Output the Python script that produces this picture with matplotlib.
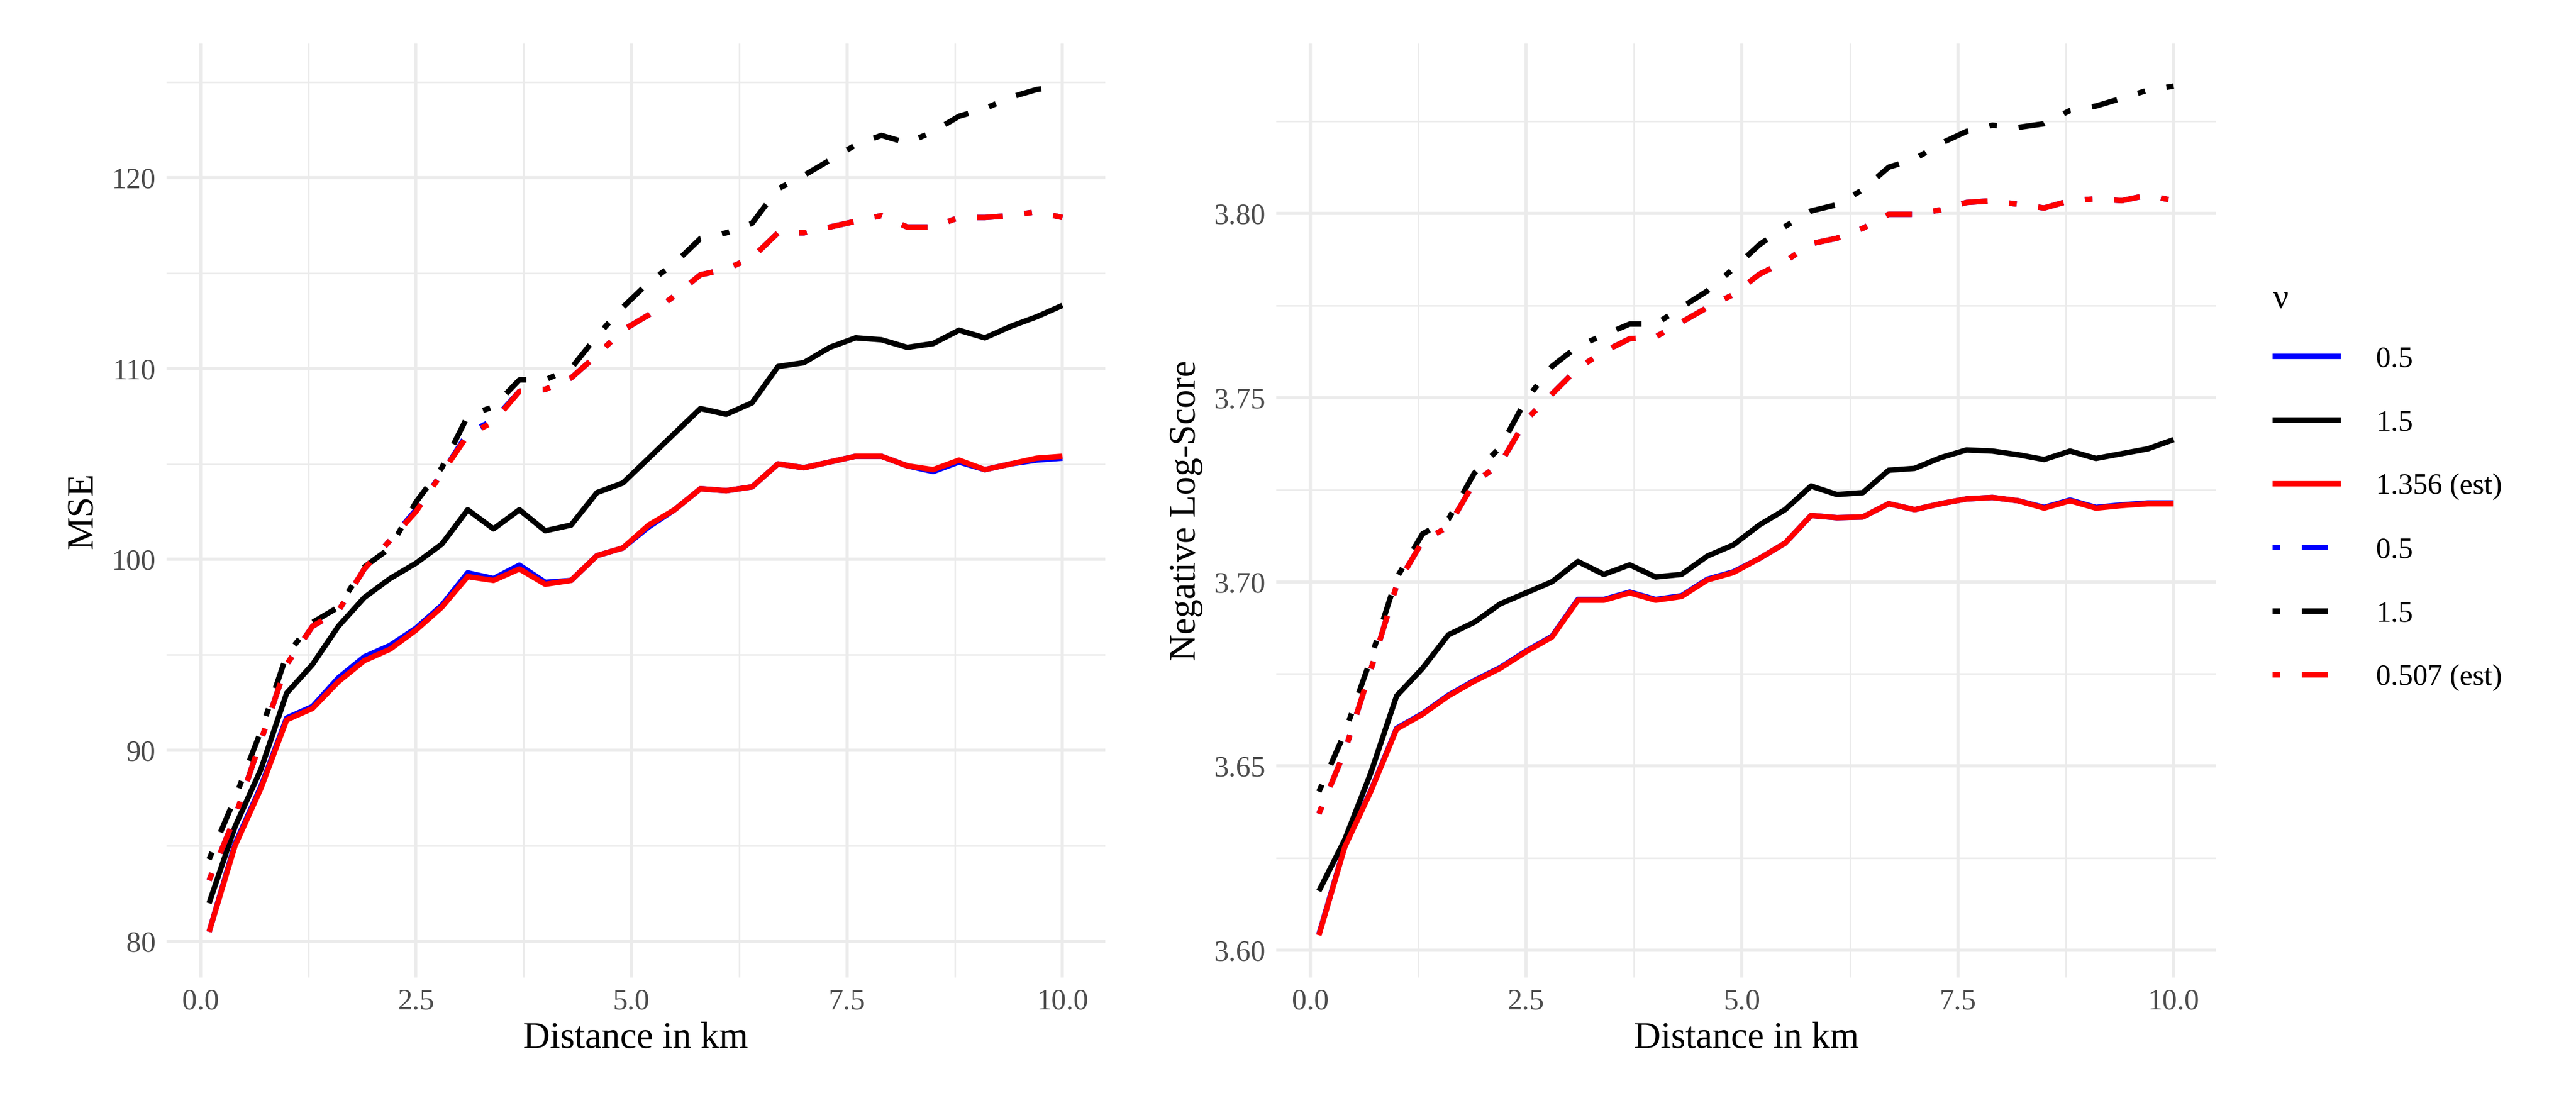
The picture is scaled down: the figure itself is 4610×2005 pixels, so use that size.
import matplotlib
matplotlib.use("Agg")
import matplotlib.pyplot as plt
from matplotlib.ticker import MultipleLocator, FixedLocator

plt.rcParams["font.family"] = ["Liberation Serif", "DejaVu Serif"]

distance = [0.1, 0.4, 0.7, 1.0, 1.3, 1.6, 1.9, 2.2, 2.5, 2.8, 3.1, 3.4, 3.7, 4.0, 4.3, 4.6, 4.9,
            5.2, 5.5, 5.8, 6.1, 6.4, 6.7, 7.0, 7.3, 7.6, 7.9, 8.2, 8.5, 8.8, 9.1, 9.4, 9.7, 10.0]

# MSE
mse_05 = [80.5, 85.1, 88.1, 91.7, 92.3, 93.8, 94.9, 95.5, 96.4, 97.6, 99.3, 99.0, 99.7, 98.8, 98.9, 100.2, 100.6,
          101.7, 102.6, 103.7, 103.6, 103.8, 105.0, 104.8, 105.1, 105.4, 105.4, 104.9, 104.6, 105.1, 104.7, 105.0, 105.2, 105.3]
mse_15 = [82.0, 86.0, 89.0, 93.0, 94.5, 96.5, 98.0, 99.0, 99.8, 100.8, 102.6, 101.6, 102.6, 101.5, 101.8, 103.5, 104.0,
          105.3, 106.6, 107.9, 107.6, 108.2, 110.1, 110.3, 111.1, 111.6, 111.5, 111.1, 111.3, 112.0, 111.6, 112.2, 112.7, 113.3]
mse_est = [80.5, 85.0, 88.0, 91.6, 92.2, 93.6, 94.7, 95.3, 96.3, 97.5, 99.1, 98.9, 99.5, 98.7, 98.9, 100.2, 100.6,
           101.8, 102.6, 103.7, 103.6, 103.8, 105.0, 104.8, 105.1, 105.4, 105.4, 104.9, 104.7, 105.2, 104.7, 105.0, 105.3, 105.4]
mse_05_dd = [83.2, 86.5, 90.5, 94.5, 96.5, 97.3, 99.5, 101.0, 102.6, 104.5, 106.6, 107.3, 108.8, 108.9, 109.5, 110.7, 112.0,
             112.8, 113.8, 114.9, 115.2, 115.8, 117.1, 117.1, 117.4, 117.7, 118.0, 117.4, 117.4, 117.9, 117.9, 118.0, 118.2, 117.9]
mse_15_dd = [84.3, 87.5, 91.0, 95.0, 96.7, 97.5, 99.6, 100.6, 103.0, 104.8, 107.5, 108.0, 109.4, 109.4, 110.0, 111.7, 113.2,
             114.5, 115.5, 116.8, 117.1, 117.6, 119.4, 120.1, 120.9, 121.7, 122.2, 121.8, 122.4, 123.2, 123.6, 124.2, 124.6, 124.8]
mse_est_dd = [83.2, 86.5, 90.5, 94.5, 96.5, 97.3, 99.5, 101.0, 102.5, 104.5, 106.5, 107.2, 108.8, 108.9, 109.5, 110.7, 112.0,
              112.8, 113.8, 114.9, 115.2, 115.8, 117.1, 117.1, 117.4, 117.7, 118.0, 117.4, 117.4, 117.9, 117.9, 118.0, 118.2, 117.9]

# negative log-score
nls_05 = [3.6042, 3.6282, 3.6432, 3.6602, 3.6642, 3.6692, 3.6732, 3.6767, 3.6812, 3.6852, 3.6952, 3.6952, 3.6972, 3.6952,
          3.6962, 3.7007, 3.7027, 3.7063, 3.7105, 3.7180, 3.7174, 3.7176, 3.7212, 3.7196, 3.7212, 3.7225, 3.7229, 3.7220,
          3.7202, 3.7222, 3.7202, 3.7209, 3.7214, 3.7214]
nls_15 = [3.616, 3.630, 3.648, 3.669, 3.6765, 3.6856, 3.689, 3.694, 3.697, 3.700, 3.7055, 3.702, 3.7046, 3.7013, 3.702,
          3.707, 3.710, 3.7154, 3.7196, 3.726, 3.7237, 3.7242, 3.7303, 3.7308, 3.7337, 3.7358, 3.7355, 3.7345, 3.7332,
          3.7355, 3.7335, 3.7348, 3.7361, 3.7386]
nls_est = [3.604, 3.628, 3.643, 3.660, 3.664, 3.669, 3.673, 3.6765, 3.681, 3.685, 3.695, 3.695, 3.697, 3.695, 3.696,
           3.7005, 3.7025, 3.7063, 3.7105, 3.718, 3.7174, 3.7176, 3.7212, 3.7196, 3.7212, 3.7225, 3.7229, 3.722, 3.720,
           3.722, 3.720, 3.7207, 3.7212, 3.7212]
nls_05_dd = [3.637, 3.654, 3.676, 3.699, 3.711, 3.715, 3.727, 3.732, 3.744, 3.751, 3.758, 3.7625, 3.766, 3.7665, 3.7705,
             3.7745, 3.778, 3.7835, 3.7870, 3.7918, 3.7933, 3.7960, 3.7998, 3.7998, 3.8010, 3.8030, 3.8035, 3.8025, 3.8015,
             3.8035, 3.8040, 3.8035, 3.8050, 3.8035]
nls_15_dd = [3.643, 3.659, 3.679, 3.701, 3.713, 3.717, 3.7295, 3.7365, 3.7495, 3.7585, 3.764, 3.767, 3.770, 3.770, 3.7745,
             3.779, 3.785, 3.7915, 3.7965, 3.8007, 3.8024, 3.8065, 3.8126, 3.8148, 3.819, 3.8223, 3.824, 3.8234, 3.8244,
             3.828, 3.8292, 3.8313, 3.8335, 3.8346]
nls_est_dd = [3.637, 3.654, 3.676, 3.699, 3.711, 3.715, 3.727, 3.732, 3.744, 3.751, 3.758, 3.7625, 3.766, 3.7665, 3.7705,
              3.7745, 3.778, 3.7835, 3.7870, 3.7918, 3.7933, 3.7960, 3.7998, 3.7998, 3.8010, 3.8030, 3.8035, 3.8025, 3.8015,
              3.8035, 3.8040, 3.8035, 3.8050, 3.8035]

labels = ["0.5", "1.5", "1.356 (est)", "0.5", "1.5", "0.507 (est)"]
colors = ["#0000ff", "#000000", "#ff0000", "#0000ff", "#000000", "#ff0000"]
solid = [True, True, True, False, False, False]

LW = 7.0
DOTDASH = (1.4, 4.0, 4.8, 4.0)
GRID = "#ebebeb"
TICK_COLOR = "#4d4d4d"

fig = plt.figure(figsize=(46.1, 20.05), dpi=100)
ax1 = fig.add_axes([0.0646, 0.127, 0.3644, 0.834])
ax2 = fig.add_axes([0.4954, 0.127, 0.365, 0.834])


def style_axis(ax, major_y, minor_y, ylabel, fmt):
    for s in ax.spines.values():
        s.set_visible(False)
    ax.set_xlim(-0.395, 10.495)
    ax.xaxis.set_major_locator(FixedLocator([0, 2.5, 5, 7.5, 10]))
    ax.xaxis.set_minor_locator(FixedLocator([1.25, 3.75, 6.25, 8.75]))
    ax.set_xticklabels(["0.0", "2.5", "5.0", "7.5", "10.0"])
    ax.yaxis.set_major_locator(MultipleLocator(major_y))
    ax.yaxis.set_minor_locator(MultipleLocator(minor_y))
    ax.yaxis.set_major_formatter(fmt)
    ax.grid(True, which="major", color=GRID, linewidth=4.0)
    ax.grid(True, which="minor", color=GRID, linewidth=2.0)
    ax.set_axisbelow(True)
    ax.tick_params(which="both", length=0, labelsize=38, labelcolor=TICK_COLOR, pad=14)
    ax.set_xlabel("Distance in km", fontsize=48, labelpad=8)
    ax.set_ylabel(ylabel, fontsize=48, labelpad=14)


def draw(ax, series):
    handles = []
    for ys, c, s, lab in zip(series, colors, solid, labels):
        if s:
            h, = ax.plot(distance, ys, color=c, linewidth=LW, label=lab, solid_capstyle="butt")
        else:
            h, = ax.plot(distance, ys, color=c, linewidth=LW, label=lab, dashes=DOTDASH, dash_capstyle="butt")
        handles.append(h)
    return handles


handles = draw(ax1, [mse_05, mse_15, mse_est, mse_05_dd, mse_15_dd, mse_est_dd])
ax1.set_ylim(78.1, 127.0)
style_axis(ax1, 10, 5, "MSE", plt.FuncFormatter(lambda v, p: f"{v:.0f}"))

draw(ax2, [nls_05, nls_15, nls_est, nls_05_dd, nls_15_dd, nls_est_dd])
lo, hi = 3.604, 3.8346
pad = (hi - lo) * 0.05
ax2.set_ylim(lo - pad, hi + pad)
style_axis(ax2, 0.05, 0.025, "Negative Log-Score", plt.FuncFormatter(lambda v, p: f"{v:.2f}"))

leg = fig.legend(handles=handles, loc="upper left", bbox_to_anchor=(0.872, 0.77), frameon=False,
                 title="ν", fontsize=38, title_fontsize=44, handlelength=2.3, handletextpad=1.2,
                 labelspacing=1.25, alignment="left")
leg._legend_box.sep = 40

fig.savefig("out.png", dpi=100)
